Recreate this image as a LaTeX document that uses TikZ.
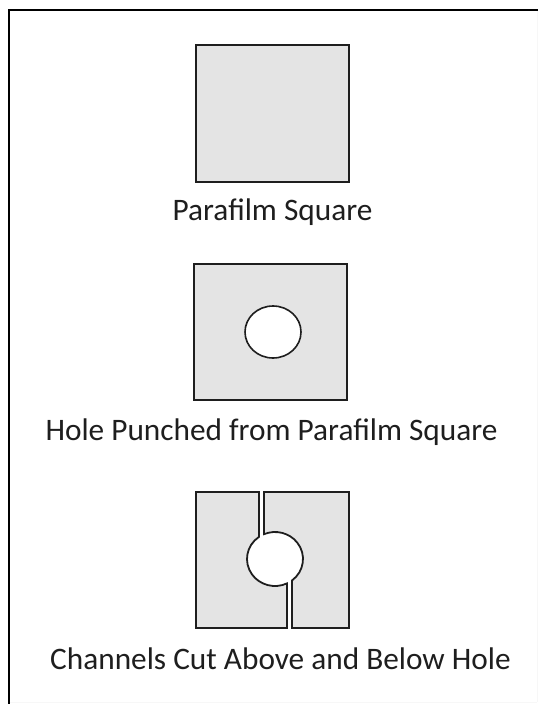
\documentclass[tikz,border=0pt]{standalone}
\usepackage{fontspec}
\setmainfont{Carlito}
\definecolor{filmgray}{HTML}{E4E4E4}
\definecolor{inkc}{HTML}{1E1E1E}
\begin{document}
\begin{tikzpicture}[x=1pt,y=-1pt,
  film/.style={draw=inkc,fill=filmgray,line width=1.8pt,line join=miter},
  hole/.style={draw=inkc,fill=white,line width=1.6pt},
  framel/.style={draw=black,line width=2pt},
  faint/.style={draw=black!3,line width=0.8pt},
  lab/.style={font=\fontsize{31.3}{36}\selectfont,text=inkc,anchor=base,inner sep=0pt}]
\useasboundingbox (0,0) rectangle (538,704);
% frame
\draw[framel] (8,10) -- (538,10);
\draw[framel] (9,9) -- (9,704);
\draw[faint] (537,11) -- (537,702);
\draw[faint] (10,702) -- (537,702);
% square 1
\draw[film] (196,45) rectangle (349,182);
\node[lab] (l1) at (272.5,220) {Parafilm Square};
% square 2 with hole
\draw[film] (194,264) rectangle (347,400);
\draw[hole] (273,332) ellipse [x radius=28, y radius=26];
\node[lab] (l2) at (271.5,440) {Hole Punched from Parafilm Square};
% square 3 with channels
\def\cx{275}\def\cy{559}\def\rx{28}\def\ry{27}
\draw[film] (196,492) -- (259,492)
  -- (259,{\cy-\ry*sin(acos(16/28))})
  arc[start angle={360-acos(-16/28)}, end angle={acos(12/28)}, x radius=\rx, y radius=\ry]
  -- (287,628) -- (196,628) -- cycle;
\draw[film] (264,492) -- (349,492) -- (349,628) -- (292,628)
  -- (292,{\cy+\ry*sin(acos(17/28))})
  arc[start angle={acos(17/28)}, end angle={-acos(-11/28)}, x radius=\rx, y radius=\ry]
  -- cycle;
\node[lab] (l3) at (280.5,669) {Channels Cut Above and Below Hole};
\end{tikzpicture}
\end{document}
